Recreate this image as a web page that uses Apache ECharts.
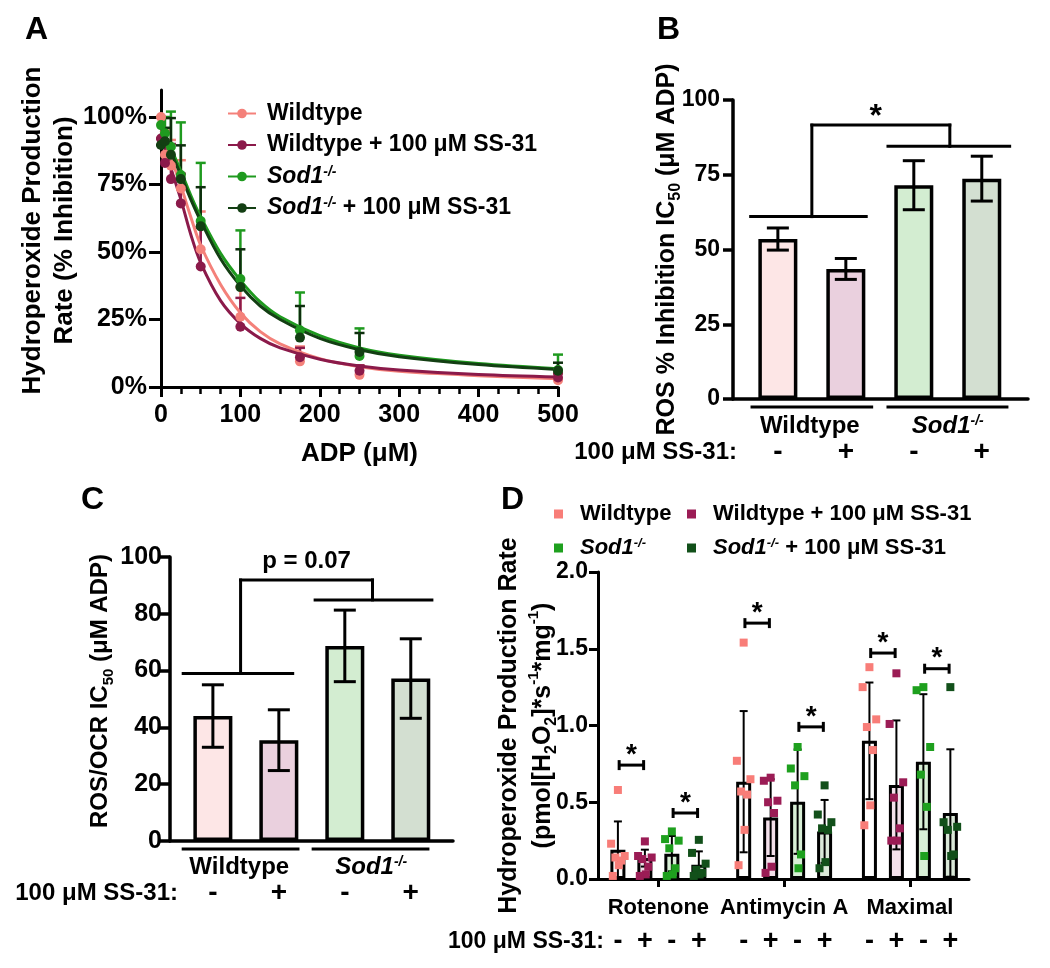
<!DOCTYPE html>
<html>
<head>
<meta charset="utf-8">
<title>SS-31 and Sod1 hydroperoxide production</title>
<script src="https://cdn.jsdelivr.net/npm/echarts@6.0.0/dist/echarts.min.js"></script>
<style>
  html, body { margin: 0; padding: 0; background: #fff; }
  #chart { width: 1050px; height: 968px; }
</style>
</head>
<body>
<div id="chart"></div>
<script>
// ---------- panel A : ADP titration ----------
const adpDose = [0, 5, 12.5, 25, 50, 100, 175, 250, 500];
const wtMean = [100, 86, 82, 73.5, 51, 26, 9.5, 4.5, 2.5];
const wtUpper = [100, 95, 91.5, 84, 65, 37, 15, 8, 5];
const wtSsMean = [92, 83, 77, 68, 44.6, 22.3, 11, 6, 3.5];
const wtSsUpper = [92, 94, 90, 79, 59, 33, 14.5, 8, 5];
const sodMean = [97, 94, 89, 78.5, 61.5, 40, 21, 11.5, 6.3];
const sodUpper = [100, 100, 102, 98, 83, 58, 35, 21.7, 12];
const sodSsMean = [89.6, 91, 86, 77, 59.5, 37, 18.3, 13, 6];
const sodSsUpper = [89.6, 96, 99.6, 89.5, 74, 51, 30, 20, 9];

// fitted curves
const fitDose = [0, 12.5, 25, 37.5, 50, 75, 100, 125, 150, 200, 250, 300, 400, 500];
const wtFit = [95, 85, 74.5, 63, 52.5, 38, 27.5, 20.5, 16, 10.5, 7.5, 5.8, 4.2, 3.1];
const wtSsFit = [93, 81, 69.5, 56.5, 46, 32, 23.5, 18, 14.5, 10.3, 7.8, 6.3, 4.6, 3.7];
const sodFit = [97.5, 88.5, 80, 71, 63, 49.5, 39.5, 31.5, 26, 19, 14.5, 11.8, 8.7, 6.8];
const sodSsFit = [96, 87, 78.5, 69.5, 61.5, 47.5, 37.5, 30, 25, 18, 13.8, 11.2, 8.3, 6.5];

// ---------- panels B and C : IC50 ----------
const ssSigns = ['-', '+', '-', '+'];
const genotypes = ['Wildtype', 'Sod1-/-'];
const bMean = [53.5, 43.5, 71.5, 73.7];
const bErr = [3.7, 3.5, 8.2, 7.5];
const cMean = [44, 35.5, 68.7, 57.2];
const cErr = [11, 10.7, 12.6, 14];

// ---------- panel D : hydroperoxide production ----------
const dCategories = ['Rotenone', 'Antimycin A', 'Maximal'];
const dWtMean = [0.19, 0.634, 0.90];
const dWtSd = [0.185, 0.46, 0.38];
const dWtSsMean = [0.136, 0.40, 0.613];
const dWtSsSd = [0.055, 0.25, 0.42];
const dSodMean = [0.165, 0.504, 0.764];
const dSodSd = [0.115, 0.34, 0.44];
const dSodSsMean = [0.093, 0.31, 0.43];
const dSodSsSd = [0.087, 0.205, 0.415];
const dWtPts = [[0.58, 0.23, 0.15, 0.14, 0.12, 0.09, 0.02], [1.54, 0.77, 0.65, 0.57, 0.55, 0.32, 0.09], [1.38, 1.25, 1.04, 0.99, 0.84, 0.48, 0.35]];
const dWtSsPts = [[0.245, 0.15, 0.14, 0.13, 0.08, 0.03, 0.02], [0.66, 0.64, 0.51, 0.50, 0.43, 0.08, 0.04], [1.34, 1.01, 0.63, 0.53, 0.33, 0.25, 0.25]];
const dSodPts = [[0.31, 0.26, 0.25, 0.20, 0.07, 0.03, 0.02], [0.86, 0.72, 0.67, 0.61, 0.16, 0.07], [1.25, 1.23, 0.86, 0.68, 0.47, 0.15]];
const dSodSsPts = [[0.255, 0.17, 0.10, 0.06, 0.04, 0.03, 0.02], [0.61, 0.42, 0.37, 0.33, 0.32, 0.11, 0.07], [1.25, 0.37, 0.34, 0.32, 0.16, 0.15]];
// significance pairs: [category, first bar of pair, bracket height]
const dSig = [[0, 0, 0.742], [0, 2, 0.43], [1, 0, 1.667], [1, 2, 0.991], [2, 0, 1.472], [2, 2, 1.37]];

// ---------- styling ----------
const FF = 'Liberation Sans, Arial, Helvetica, sans-serif';
const colWt = '#f4817a', colWtSs = '#8b1a4a', colSod = '#1f9a1f', colSodSs = '#133f13';
const fillBC = ['#fde6e6', '#ead0de', '#d3edd1', '#d3dfd1'];
const fillD = ['#ffffff', '#f3e0ea', '#d8efd6', '#dae8d8'];
const ptColD = ['#f87d78', '#9b1c55', '#1ea01e', '#12501a'];

function rich(size) {
  return {
    i: { fontFamily: FF, fontSize: size, fontWeight: 'bold', fontStyle: 'italic', color: '#000' },
    sup: { fontFamily: FF, fontSize: Math.round(size * 0.6), fontWeight: 'bold', fontStyle: 'italic', verticalAlign: 'top', color: '#000' },
    up: { fontFamily: FF, fontSize: Math.round(size * 0.6), fontWeight: 'bold', verticalAlign: 'top', color: '#000' },
    sub: { fontFamily: FF, fontSize: Math.round(size * 0.62), fontWeight: 'bold', verticalAlign: 'bottom', color: '#000' }
  };
}
function fmtName(name) {
  name = name.replace(/^D\|/, '');
  if (name.indexOf('Sod1-/-') === 0) return '{i|Sod1}{sup|-/-}' + name.slice(7);
  return name;
}
function txt(size, extra) {
  return Object.assign({ fontFamily: FF, fontSize: size, fontWeight: 'bold', color: '#000' }, extra || {});
}
function axisLine(w) {
  return { show: true, onZero: false, lineStyle: { color: '#000', width: w } };
}
function tick(len, w, vals) {
  const t = { show: true, length: len, lineStyle: { color: '#000', width: w } };
  if (vals) t.customValues = vals;
  return t;
}

// D bar positions on the value x-axis
const dStep = 0.2145;
function dPos(g, k) { return g + 0.5 + (k - 1.5) * dStep; }
const dPositions = [];
dCategories.forEach((c, g) => { for (let k = 0; k < 4; k++) dPositions.push(dPos(g, k)); });
const jitter = [0, -0.4, 0.4, -0.15, 0.2, 0.05, -0.3];

// ---------- series builders ----------
function errSeries(xi, yi, data, color, capW, lw, bothCaps) {
  return {
    type: 'custom', xAxisIndex: xi, yAxisIndex: yi, silent: true, z: 3,
    data: data, encode: { x: 0, y: [1, 2] },
    renderItem: function (params, api) {
      const x = api.value(0);
      const a = api.coord([x, api.value(1)]);
      const b = api.coord([x, api.value(2)]);
      const st = { stroke: color, lineWidth: lw, fill: null };
      const kids = [
        { type: 'line', shape: { x1: a[0], y1: a[1], x2: b[0], y2: b[1] }, style: st },
        { type: 'line', shape: { x1: b[0] - capW / 2, y1: b[1], x2: b[0] + capW / 2, y2: b[1] }, style: st }
      ];
      if (bothCaps) kids.push({ type: 'line', shape: { x1: a[0] - capW / 2, y1: a[1], x2: a[0] + capW / 2, y2: a[1] }, style: st });
      return { type: 'group', children: kids };
    }
  };
}
function segSeries(xi, yi, segs, lw, dy) {
  return {
    type: 'custom', xAxisIndex: xi, yAxisIndex: yi, silent: true, z: 3,
    data: segs, encode: { x: [0, 2], y: [1, 3] },
    renderItem: function (params, api) {
      const a = api.coord([api.value(0), api.value(1)]);
      const b = api.coord([api.value(2), api.value(3)]);
      return { type: 'line', shape: { x1: a[0], y1: a[1] + dy, x2: b[0], y2: b[1] + dy },
        style: { stroke: '#000', lineWidth: lw, lineCap: 'square' } };
    }
  };
}
function textSeries(xi, yi, pos, label, size) {
  return {
    type: 'custom', xAxisIndex: xi, yAxisIndex: yi, silent: true, z: 3,
    data: [pos], encode: { x: 0, y: 1 },
    renderItem: function (params, api) {
      const p = api.coord([api.value(0), api.value(1)]);
      return { type: 'text', x: p[0], y: p[1],
        style: { text: label, fill: '#000', fontFamily: FF, fontSize: size, fontWeight: 'bold', align: 'center', verticalAlign: 'middle' } };
    }
  };
}

const series = [];

// A: fitted curves (first, so the legend uses their line + dot icon)
[['Wildtype', wtFit, colWt], ['Wildtype + 100 μM SS-31', wtSsFit, colWtSs],
 ['Sod1-/-', sodFit, colSod], ['Sod1-/- + 100 μM SS-31', sodSsFit, colSodSs]].forEach(function (s) {
  series.push({
    name: s[0], type: 'line', xAxisIndex: 0, yAxisIndex: 0, smooth: 0.35,
    symbol: 'circle', showSymbol: false, silent: true,
    data: fitDose.map((d, i) => [d, s[1][i]]),
    lineStyle: { color: s[2], width: 3 }, itemStyle: { color: s[2] }
  });
});
// A: error bars then points
[[wtMean, wtUpper, colWt], [wtSsMean, wtSsUpper, colWtSs], [sodMean, sodUpper, colSod], [sodSsMean, sodSsUpper, '#0d2e0d']].forEach(function (s) {
  series.push(errSeries(0, 0, adpDose.map((d, i) => [d, s[0][i], s[1][i]]), s[2], 10, 2.5, false));
});
[['Wildtype', wtMean, colWt], ['Wildtype + 100 μM SS-31', wtSsMean, colWtSs],
 ['Sod1-/-', sodMean, colSod], ['Sod1-/- + 100 μM SS-31', sodSsMean, colSodSs]].forEach(function (s) {
  series.push({
    name: s[0], type: 'scatter', xAxisIndex: 0, yAxisIndex: 0, symbol: 'circle', symbolSize: 10,
    data: adpDose.map((d, i) => [d, s[1][i]]), itemStyle: { color: s[2], opacity: 1 }, z: 4
  });
});

// B and C: bars, error bars, brackets, underlines
function icPanel(xi, yi, mean, err, brackets, unders, mark) {
  series.push({
    type: 'bar', xAxisIndex: xi, yAxisIndex: yi, barWidth: 39,
    data: mean.map((v, i) => ({ value: [i, v], itemStyle: { color: fillBC[i] } })),
    itemStyle: { borderColor: '#000', borderWidth: 3.5 }, silent: true
  });
  series.push(errSeries(xi, yi, mean.map((v, i) => [i, v - err[i], v + err[i]]), '#000', 22, 3, true));
  series.push(segSeries(xi, yi, brackets, 3, 0));
  series.push(segSeries(xi, yi, unders, 3, 8));
  series.push(textSeries(xi, yi, mark.pos, mark.text, mark.size));
}
icPanel(1, 1, bMean, bErr,
  [[-0.4, 61, 1.3, 61], [1.62, 84.5, 3.41, 84.5], [0.5, 61, 0.5, 91.6], [0.5, 91.6, 2.53, 91.6], [2.53, 91.6, 2.53, 84.5]],
  [[-0.38, 0, 1.38, 0], [1.62, 0, 3.37, 0]],
  { pos: [1.44, 94.3], text: '*', size: 32 });
icPanel(3, 2, cMean, cErr,
  [[-0.45, 59, 1.21, 59], [1.55, 84.9, 3.32, 84.9], [0.42, 59, 0.42, 91.9], [0.42, 91.9, 2.42, 91.9], [2.42, 91.9, 2.42, 84.9]],
  [[-0.45, 0, 1.29, 0], [1.52, 0, 3.26, 0]],
  { pos: [1.42, 98.6], text: 'p = 0.07', size: 24 });

// D: bars
const dMeans = [dWtMean, dWtSsMean, dSodMean, dSodSsMean];
const dSds = [dWtSd, dWtSsSd, dSodSd, dSodSsSd];
const dPts = [dWtPts, dWtSsPts, dSodPts, dSodSsPts];
const dBarData = [];
dCategories.forEach(function (c, g) {
  for (let k = 0; k < 4; k++) dBarData.push({ value: [dPos(g, k), dMeans[k][g]], itemStyle: { color: fillD[k] } });
});
series.push({
  type: 'bar', xAxisIndex: 5, yAxisIndex: 3, barWidth: 15, data: dBarData, silent: true,
  itemStyle: { borderColor: '#000', borderWidth: 3 }
});
const dNames = ['D|Wildtype', 'D|Wildtype + 100 μM SS-31', 'D|Sod1-/-', 'D|Sod1-/- + 100 μM SS-31'];
for (let k = 0; k < 4; k++) {
  const pts = [];
  dCategories.forEach(function (c, g) {
    dPts[k][g].forEach((v, j) => pts.push([dPos(g, k) + jitter[j % jitter.length] * 0.135, v]));
  });
  series.push({
    name: dNames[k], type: 'scatter', xAxisIndex: 5, yAxisIndex: 3, symbol: 'rect', symbolSize: 8,
    data: pts, itemStyle: { color: ptColD[k], opacity: 1 }, z: 4
  });
}
for (let k = 0; k < 4; k++) {
  series.push(errSeries(5, 3, dCategories.map((c, g) =>
    [dPos(g, k), Math.max(0, dMeans[k][g] - dSds[k][g]), dMeans[k][g] + dSds[k][g]]), '#000', 8, 2, true));
}
series.push({
  type: 'custom', xAxisIndex: 5, yAxisIndex: 3, silent: true, z: 5,
  data: dSig.map(s => [dPos(s[0], s[1]) + 0.01, dPos(s[0], s[1] + 1) - 0.01, s[2]]),
  encode: { x: [0, 1], y: 2 },
  renderItem: function (params, api) {
    const a = api.coord([api.value(0), api.value(2)]);
    const b = api.coord([api.value(1), api.value(2)]);
    const st = { stroke: '#000', lineWidth: 3 };
    return { type: 'group', children: [
      { type: 'line', shape: { x1: a[0], y1: a[1], x2: b[0], y2: b[1] }, style: st },
      { type: 'line', shape: { x1: a[0], y1: a[1] - 5, x2: a[0], y2: a[1] + 5 }, style: st },
      { type: 'line', shape: { x1: b[0], y1: b[1] - 5, x2: b[0], y2: b[1] + 5 }, style: st },
      { type: 'text', x: (a[0] + b[0]) / 2, y: a[1] - 10,
        style: { text: '*', fill: '#000', fontFamily: FF, fontSize: 28, fontWeight: 'bold', align: 'center', verticalAlign: 'middle' } }
    ] };
  }
});

// ---------- axes ----------
const bMin = -0.66, bMax = 3.68, cMin = -0.65, cMax = 3.64, dMin = 0.02, dMax = 2.97;
const xAxis = [
  { // 0: A
    gridIndex: 0, type: 'value', min: 0, max: 500, interval: 100,
    axisLine: axisLine(3), axisTick: tick(10, 3),
    minorTick: { show: true, splitNumber: 4, length: 7, lineStyle: { color: '#000', width: 2.5 } },
    splitLine: { show: false }, minorSplitLine: { show: false },
    axisLabel: txt(25, { margin: 16 }),
    name: 'ADP (μM)', nameLocation: 'middle', nameGap: 54, nameTextStyle: txt(26)
  },
  { // 1: B signs
    gridIndex: 1, type: 'value', min: bMin, max: bMax, position: 'bottom',
    axisLine: axisLine(3.5), axisTick: { show: false }, splitLine: { show: false },
    axisLabel: txt(28, { customValues: [0, 1, 2, 3], margin: 39, formatter: v => ssSigns[Math.round(v)] })
  },
  { // 2: B genotype labels
    gridIndex: 1, type: 'value', min: bMin, max: bMax, position: 'bottom',
    axisLine: { show: false }, axisTick: { show: false }, splitLine: { show: false },
    axisLabel: txt(24, { customValues: [0.47, 2.5], margin: 15, rich: rich(24),
      formatter: v => fmtName(genotypes[v < 1.5 ? 0 : 1]) })
  },
  { // 3: C signs
    gridIndex: 2, type: 'value', min: cMin, max: cMax, position: 'bottom',
    axisLine: axisLine(3.5), axisTick: { show: false }, splitLine: { show: false },
    axisLabel: txt(28, { customValues: [0, 1, 2, 3], margin: 38, formatter: v => ssSigns[Math.round(v)] })
  },
  { // 4: C genotype labels
    gridIndex: 2, type: 'value', min: cMin, max: cMax, position: 'bottom',
    axisLine: { show: false }, axisTick: { show: false }, splitLine: { show: false },
    axisLabel: txt(24, { customValues: [0.4, 2.4], margin: 14, rich: rich(24),
      formatter: v => fmtName(genotypes[v < 1.5 ? 0 : 1]) })
  },
  { // 5: D categories
    gridIndex: 3, type: 'value', min: dMin, max: dMax, position: 'bottom',
    axisLine: axisLine(3), axisTick: tick(8, 3, [0.5, 1.5, 2.5]), splitLine: { show: false },
    axisLabel: txt(22, { customValues: [0.5, 1.5, 2.5], margin: 18,
      formatter: v => dCategories[Math.round(v - 0.5)] })
  },
  { // 6: D signs
    gridIndex: 3, type: 'value', min: dMin, max: dMax, position: 'bottom',
    axisLine: { show: false }, axisTick: { show: false }, splitLine: { show: false },
    axisLabel: txt(27, { customValues: dPositions, margin: 49,
      formatter: v => ssSigns[dPositions.findIndex(p => Math.abs(p - v) < 1e-6) % 4] })
  }
];
const yAxis = [
  {
    gridIndex: 0, type: 'value', min: 0, max: 110,
    axisLine: axisLine(3), axisTick: tick(12, 3, [0, 25, 50, 75, 100]), splitLine: { show: false },
    axisLabel: txt(25, { customValues: [0, 25, 50, 75, 100], formatter: '{value}%', margin: 14 }),
    name: 'Hydroperoxide Production\nRate (% Inhibition)', nameLocation: 'middle', nameRotate: 90, nameGap: 80,
    nameMoveOverlap: false,
    nameTextStyle: txt(26, { lineHeight: 32, padding: [0, 0, 0, 16] })
  },
  {
    gridIndex: 1, type: 'value', min: 0, max: 100, interval: 25,
    axisLine: axisLine(3.5), axisTick: tick(10, 3.5), splitLine: { show: false },
    axisLabel: txt(23, { margin: 13 }),
    name: 'ROS % Inhibition IC{sub|50} (μM ADP)', nameLocation: 'middle', nameRotate: 90, nameGap: 49,
    nameMoveOverlap: false,
    nameTextStyle: txt(25, { rich: rich(25), lineHeight: 33 })
  },
  {
    gridIndex: 2, type: 'value', min: 0, max: 100, interval: 20,
    axisLine: axisLine(3.5), axisTick: tick(10, 3.5), splitLine: { show: false },
    axisLabel: txt(25, { margin: 8 }),
    name: 'ROS/OCR IC{sub|50} (μM ADP)', nameLocation: 'middle', nameRotate: 90, nameGap: 54,
    nameMoveOverlap: false,
    nameTextStyle: txt(24, { rich: rich(24), lineHeight: 32, padding: [0, 0, 0, 16] })
  },
  {
    gridIndex: 3, type: 'value', min: 0, max: 2, interval: 0.5,
    axisLine: axisLine(3), axisTick: tick(9, 3), splitLine: { show: false },
    axisLabel: txt(23, { margin: 10, formatter: v => v.toFixed(1) }),
    name: 'Hydroperoxide Production Rate\n(pmol[H{sub|2}O{sub|2}]*s{up|-1}*mg{up|-1})', nameLocation: 'middle', nameRotate: 90, nameGap: 38,
    nameMoveOverlap: false,
    nameTextStyle: txt(25, { lineHeight: 34, rich: rich(25) })
  }
];

const option = {
  animation: false,
  backgroundColor: '#fff',
  grid: [
    { left: 161, top: 90, width: 397, height: 297, outerBoundsMode: 'none' },
    { left: 733, top: 100, width: 295, height: 299, outerBoundsMode: 'none' },
    { left: 170, top: 557, width: 283, height: 284, outerBoundsMode: 'none' },
    { left: 598, top: 572, width: 371, height: 307, outerBoundsMode: 'none' }
  ],
  xAxis: xAxis,
  yAxis: yAxis,
  legend: [
    {
      orient: 'vertical', left: 227, top: 102, itemWidth: 28, itemHeight: 12, itemGap: 8.5,
      selectedMode: false, padding: 0,
      data: ['Wildtype', 'Wildtype + 100 μM SS-31', 'Sod1-/-', 'Sod1-/- + 100 μM SS-31'],
      formatter: fmtName, textStyle: txt(23, { rich: rich(23), padding: [0, 0, 0, 6] })
    },
    {
      orient: 'vertical', left: 554, top: 503, itemWidth: 9, itemHeight: 9, itemGap: 12, icon: 'rect',
      selectedMode: false, padding: 0,
      data: [dNames[0], dNames[2]], formatter: fmtName,
      textStyle: txt(22, { rich: rich(22), padding: [0, 0, 0, 12] })
    },
    {
      orient: 'vertical', left: 687, top: 503, itemWidth: 9, itemHeight: 9, itemGap: 12, icon: 'rect',
      selectedMode: false, padding: 0,
      data: [dNames[1], dNames[3]], formatter: fmtName,
      textStyle: txt(22, { rich: rich(22), padding: [0, 0, 0, 12] })
    }
  ],
  graphic: [
    { type: 'text', x: 25, y: 14, style: { text: 'A', fill: '#000', fontFamily: FF, fontSize: 32, fontWeight: 'bold' } },
    { type: 'text', x: 657, y: 14, style: { text: 'B', fill: '#000', fontFamily: FF, fontSize: 32, fontWeight: 'bold' } },
    { type: 'text', x: 81, y: 484, style: { text: 'C', fill: '#000', fontFamily: FF, fontSize: 32, fontWeight: 'bold' } },
    { type: 'text', x: 501, y: 484, style: { text: 'D', fill: '#000', fontFamily: FF, fontSize: 32, fontWeight: 'bold' } },
    { type: 'text', x: 737, y: 452, style: { text: '100 μM SS-31:', fill: '#000', fontFamily: FF, fontSize: 24, fontWeight: 'bold', align: 'right', verticalAlign: 'middle' } },
    { type: 'text', x: 178, y: 893, style: { text: '100 μM SS-31:', fill: '#000', fontFamily: FF, fontSize: 24, fontWeight: 'bold', align: 'right', verticalAlign: 'middle' } },
    { type: 'text', x: 604, y: 942, style: { text: '100 μM SS-31:', fill: '#000', fontFamily: FF, fontSize: 23, fontWeight: 'bold', align: 'right', verticalAlign: 'middle' } }
  ],
  series: series
};

const chart = echarts.init(document.getElementById('chart'));
chart.setOption(option);
window.addEventListener('resize', () => chart.resize());
</script>
</body>
</html>
